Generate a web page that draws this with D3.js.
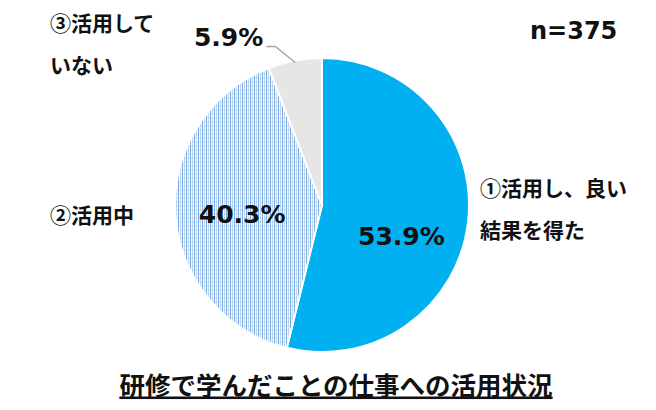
<!DOCTYPE html>
<html>
<meta charset="utf-8">
<title>研修で学んだことの仕事への活用状況</title>
<style>
body { margin: 0; background: #fff; }
text { font-family: "Noto Sans CJK JP", sans-serif; font-weight: bold; fill: #111; }
text.num { font-family: "DejaVu Sans", "Noto Sans CJK JP", sans-serif; }
</style>
<body>
<svg id="chart" width="656" height="410"></svg>
<script src="https://cdn.jsdelivr.net/npm/d3@7"></script>
<script>
// data
var categories = ["①活用し、良い結果を得た", "②活用中", "③活用していない"];
var values = [53.9, 40.3, 5.9];
var pctLabels = ["53.9%", "40.3%", "5.9%"];
var catLines = [["①活用し、良い", "結果を得た"], ["②活用中"], ["③活用して", "いない"]];
var title = "研修で学んだことの仕事への活用状況";
var nLabel = "n=375";

var width = 656, height = 410;
var cx = 322, cy = 205, r = 147;

var svg = d3.select("#chart");

// dotted fill for slice 2
var defs = svg.append("defs");
var pat = defs.append("pattern")
  .attr("id", "dots")
  .attr("patternUnits", "userSpaceOnUse")
  .attr("width", 4).attr("height", 4);
pat.append("rect").attr("width", 4).attr("height", 4).attr("fill", "#f1f6fc");
var dotCols = ["#6fa3e0", "#b3cff0", "#8db6e8", "#c8dcf4"];
dotCols.forEach(function(c, i){
  pat.append("rect")
    .attr("x", (i % 2) * 2).attr("y", Math.floor(i / 2) * 2)
    .attr("width", 1).attr("height", 2)
    .attr("fill", c);
});

var fills = ["#00b0f0", "url(#dots)", "#e6e6e6"];

var pie = d3.pie().sort(null).value(function(d){ return d; });
var arcs = pie(values);
var arc = d3.arc().innerRadius(0).outerRadius(r);

var g = svg.append("g").attr("transform", "translate(" + cx + "," + cy + ")");
g.selectAll("path.slice")
  .data(arcs)
  .enter().append("path")
  .attr("class", "slice")
  .attr("d", arc)
  .attr("fill", function(d, i){ return fills[i]; })
  .attr("stroke", "#fff")
  .attr("stroke-width", 2);

// percentage labels inside first two slices
var inner = d3.arc().innerRadius(80).outerRadius(80);
g.selectAll("text.pct")
  .data(arcs.slice(0, 2))
  .enter().append("text")
  .attr("class", "pct num")
  .attr("x", function(d){ return inner.centroid(d)[0]; })
  .attr("y", function(d, i){ return inner.centroid(d)[1] + (i === 0 ? 22 : 4); })
  .attr("text-anchor", "middle")
  .attr("dominant-baseline", "central")
  .style("font-size", "25px")
  .text(function(d, i){ return pctLabels[i]; });

// small slice label outside with leader
var edge = d3.arc().innerRadius(r - 2).outerRadius(r - 2);
var p0 = edge.centroid(arcs[2]);
g.append("polyline")
  .attr("points", [p0, [p0[0] - 20, p0[1] - 16], [p0[0] - 29, p0[1] - 16]].map(function(p){ return p.join(","); }).join(" "))
  .attr("fill", "none")
  .attr("stroke", "#a6a6a6")
  .attr("stroke-width", 1.5);
g.append("text")
  .attr("class", "num")
  .attr("x", p0[0] - 32).attr("y", p0[1] - 25)
  .attr("text-anchor", "end")
  .attr("dominant-baseline", "central")
  .style("font-size", "25px")
  .text(pctLabels[2]);

// category labels
var catPos = [[480, 187], [50, 214], [50, 22]];
catLines.forEach(function(lines, i){
  var t = svg.append("text")
    .attr("x", catPos[i][0]).attr("y", catPos[i][1])
    .attr("dominant-baseline", "central")
    .style("font-size", "21px");
  lines.forEach(function(l, j){
    t.append("tspan").attr("x", catPos[i][0]).attr("dy", j ? 42 : 0).text(l);
  });
});

svg.append("text")
  .attr("class", "num")
  .attr("x", 530).attr("y", 31)
  .attr("dominant-baseline", "central")
  .style("font-size", "24px")
  .text(nLabel);

// title
svg.append("text")
  .attr("x", 336).attr("y", 383)
  .attr("text-anchor", "middle")
  .attr("dominant-baseline", "central")
  .style("font-size", "25.5px")
  .style("text-decoration", "underline")
  .text(title);
</script>
</body>
</html>
